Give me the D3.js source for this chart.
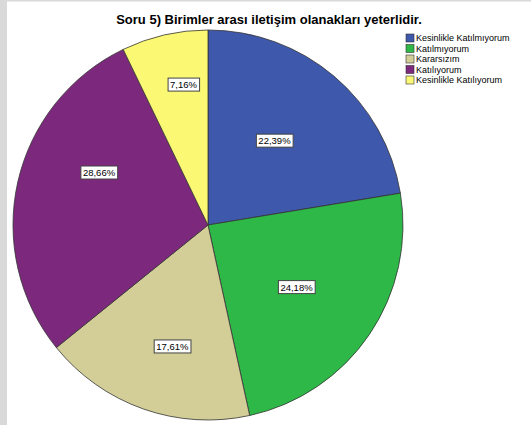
<!DOCTYPE html>
<html lang="tr">
<head>
<meta charset="UTF-8">
<script src="https://d3js.org/d3.v7.min.js"></script>
<style>
  body { margin: 0; background: #fff; }
  svg { display: block; font-family: Arial, "Liberation Sans", sans-serif; }
</style>
</head>
<body>
<div id="chart"></div>
<script>
// answer categories and their shares (%)
const categories = ["Kesinlikle Katılmıyorum", "Katılmıyorum", "Kararsızım", "Katılıyorum", "Kesinlikle Katılıyorum"];
const percents = [22.39, 24.18, 17.61, 28.66, 7.16];
const labels = ["22,39%", "24,18%", "17,61%", "28,66%", "7,16%"];
const colors = ["#3e58ac", "#2eb848", "#d3ce97", "#7c287d", "#fbf873"];
const title = "Soru 5) Birimler arası iletişim olanakları yeterlidir.";

const W = 531, H = 425;
const cx = 208, cy = 225, R = 195;

// label placement per slice (fraction of radius, angle nudge in degrees) - spss puts them unevenly
const labelR = [0.55, 0.555, 0.65, 0.62, 0.73];
const labelNudge = [-2, 1, -3, 13, 3];

const svg = d3.select("#chart").append("svg")
    .attr("width", W)
    .attr("height", H);

svg.append("rect").attr("width", W).attr("height", H).attr("fill", "#fff");
// grey frame strip on the left and top, like the screenshot
svg.append("rect").attr("x", 0).attr("y", 0).attr("width", 7).attr("height", H).attr("fill", "#d9d9d9");
svg.append("rect").attr("x", 0).attr("y", 0).attr("width", W).attr("height", 1.5).attr("fill", "#d9d9d9");

svg.append("text")
    .attr("x", 269)
    .attr("y", 24)
    .attr("text-anchor", "middle")
    .attr("font-size", "13px")
    .attr("font-weight", "bold")
    .attr("fill", "#000")
    .text(title);

const data = categories.map((c, i) => ({cat: c, value: percents[i], label: labels[i], color: colors[i]}));

const pie = d3.pie().value(d => d.value).sort(null);
const arc = d3.arc().innerRadius(0).outerRadius(R);

const g = svg.append("g").attr("transform", `translate(${cx},${cy})`);

const arcs = pie(data);

g.selectAll("path.slice")
    .data(arcs)
    .enter().append("path")
    .attr("class", "slice")
    .attr("d", arc)
    .attr("fill", d => d.data.color)
    .attr("stroke", "#333")
    .attr("stroke-width", 0.8);

function labelPos(d, i) {
    const a = (d.startAngle + d.endAngle) / 2 + labelNudge[i] * Math.PI / 180;
    const r = R * labelR[i];
    return [Math.sin(a) * r, -Math.cos(a) * r];
}

// percentage labels in small white boxes
const lab = g.selectAll("g.lab")
    .data(arcs)
    .enter().append("g")
    .attr("class", "lab")
    .attr("transform", (d, i) => `translate(${labelPos(d, i)})`);

lab.append("text")
    .attr("text-anchor", "middle")
    .attr("dy", "0.35em")
    .attr("font-size", "9.5px")
    .attr("fill", "#000")
    .text(d => d.data.label);

lab.each(function() {
    const grp = d3.select(this);
    const bb = grp.select("text").node().getBBox();
    grp.insert("rect", "text")
        .attr("x", bb.x - 2)
        .attr("y", bb.y - 1)
        .attr("width", bb.width + 4)
        .attr("height", bb.height + 2)
        .attr("fill", "#fff")
        .attr("stroke", "#444")
        .attr("stroke-width", 1);
});

// legend
const legend = svg.selectAll("g.legend")
    .data(data)
    .enter().append("g")
    .attr("class", "legend")
    .attr("transform", (d, i) => `translate(406,${34 + i * 10.5})`);

legend.append("rect")
    .attr("width", 8)
    .attr("height", 8)
    .attr("fill", d => d.color)
    .attr("stroke", "#333")
    .attr("stroke-width", 0.6);

legend.append("text")
    .attr("x", 10)
    .attr("y", 4)
    .attr("dy", "0.35em")
    .attr("font-size", "9px")
    .attr("fill", "#000")
    .text(d => d.cat);
</script>
</body>
</html>
